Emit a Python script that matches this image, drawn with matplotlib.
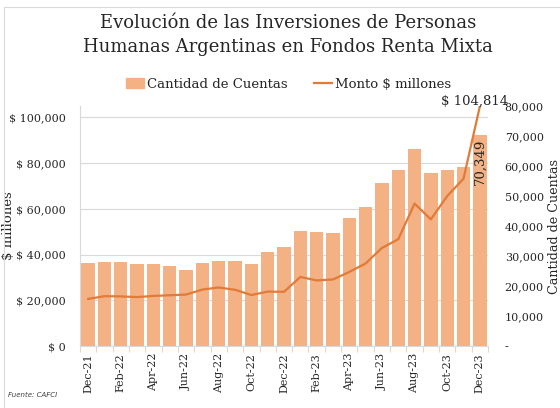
import matplotlib
matplotlib.use("Agg")
import matplotlib.pyplot as plt
from matplotlib.patches import Rectangle
from matplotlib.lines import Line2D
from matplotlib.ticker import FuncFormatter, FixedLocator

plt.rcParams["font.family"] = ["DejaVu Serif"]

months = ["Dec-21", "Jan-22", "Feb-22", "Mar-22", "Apr-22", "May-22", "Jun-22",
          "Jul-22", "Aug-22", "Sep-22", "Oct-22", "Nov-22", "Dec-22", "Jan-23",
          "Feb-23", "Mar-23", "Apr-23", "May-23", "Jun-23", "Jul-23", "Aug-23",
          "Sep-23", "Oct-23", "Nov-23", "Dec-23"]

cuentas = [27600, 28100, 28100, 27200, 27200, 26800, 25300, 27600, 28300, 28300,
           27200, 31200, 33100, 38300, 38000, 37600, 42800, 46300, 54200, 58600,
           65600, 57800, 58600, 59600, 70349]

monto = [20600, 21800, 21700, 21400, 21900, 22200, 22500, 24700, 25600, 24600,
         22300, 23800, 23700, 30200, 28700, 29100, 32400, 36100, 42900, 46700,
         62300, 55400, 65600, 73200, 104814]

monto_ticks = [0, 20000, 40000, 60000, 80000, 100000]
cuentas_ticks = [0, 10000, 20000, 30000, 40000, 50000, 60000, 70000, 80000]

MONTO_MAX = 105000
CUENTAS_MAX = 80000

BAR_COLOR = "#F4B183"
LINE_COLOR = "#E07B39"
GRID_COLOR = "#D9D9D9"
TEXT_COLOR = "#262626"

W, H = 560, 408
fig = plt.figure(figsize=(W / 100, H / 100), dpi=100)

# frame lines along the top and left edges
fig.lines.append(Line2D([4 / W, 4 / W, 1.0], [0.0, 1 - 7 / H, 1 - 7 / H],
                        transform=fig.transFigure, color="#D9D9D9", linewidth=0.8))

left, right, top, bottom = 80, 488, 106, 346
pw = right - left
ax = fig.add_axes([left / W, 1 - bottom / H, pw / W, (bottom - top) / H])
ax2 = ax.twinx()

x = list(range(len(months)))

# bars on the secondary axis, line on the primary axis drawn above
ax2.bar(x, cuentas, width=0.82, color=BAR_COLOR, zorder=2)
for t in monto_ticks[1:]:
    ax2.axhline(t * CUENTAS_MAX / MONTO_MAX, color=GRID_COLOR, linewidth=0.8, zorder=0)
ax2.set_ylim(0, CUENTAS_MAX)

ax.set_zorder(ax2.get_zorder() + 1)
ax.patch.set_visible(False)
ax.plot(x, monto, color=LINE_COLOR, linewidth=1.6, zorder=3)
ax.set_ylim(0, MONTO_MAX)
ax.set_xlim(-0.5, len(months) - 0.5)

# primary (left) axis: monto
ax.yaxis.set_major_locator(FixedLocator(monto_ticks))
ax.yaxis.set_major_formatter(FuncFormatter(lambda v, p: f"$ {v:,.0f}"))
ax.tick_params(axis="y", length=0, pad=10, labelsize=8, labelcolor=TEXT_COLOR)
ax.set_ylabel("$ millones", fontsize=9.5, color=TEXT_COLOR)
ax.yaxis.set_label_coords((15 - left) / pw, 0.5)

# secondary (right) axis: cuentas
ax2.yaxis.set_major_locator(FixedLocator(cuentas_ticks))
ax2.yaxis.set_major_formatter(FuncFormatter(lambda v, p: "-" if v == 0 else f"{v:,.0f}"))
ax2.tick_params(axis="y", length=0, pad=12, labelsize=8, labelcolor=TEXT_COLOR)
ax2.set_ylabel("Cantidad de Cuentas", fontsize=9.2, color=TEXT_COLOR, rotation=90)
ax2.yaxis.set_label_coords((548 - left) / pw, 0.5)

# x axis: every other month labelled, tick marks between categories
ax.set_xticks(x[::2])
ax.set_xticklabels(months[::2], rotation=90, fontsize=8, color=TEXT_COLOR)
ax.tick_params(axis="x", length=0, pad=5)
ax.set_xticks([i - 0.5 for i in range(len(months) + 1)], minor=True)
ax.tick_params(axis="x", which="minor", length=4, color=GRID_COLOR, width=0.8)
ax2.tick_params(axis="x", which="both", length=0)

for a in (ax, ax2):
    for s in ("top", "right"):
        a.spines[s].set_visible(False)
    a.spines["left"].set_color(GRID_COLOR)
    a.spines["bottom"].set_color(GRID_COLOR)
    a.spines["left"].set_linewidth(0.8)
    a.spines["bottom"].set_linewidth(0.8)
ax2.spines["left"].set_visible(False)
ax2.spines["bottom"].set_visible(False)

# data labels for the last month
ax.annotate(f"$ {monto[-1]:,}", xy=(x[-1], monto[-1]), xytext=(-4, 4),
            textcoords="offset points", ha="center", va="center",
            fontsize=9.5, color=TEXT_COLOR, zorder=4)
ax2.annotate(f"{cuentas[-1]:,}", xy=(x[-1], cuentas[-1]), xytext=(0, -3),
             textcoords="offset points", ha="center", va="top", rotation=90,
             fontsize=9.5, color=TEXT_COLOR)

# title
fig.text(0.515, 1 - 35 / H, "Evolución de las Inversiones de Personas\n"
         "Humanas Argentinas en Fondos Renta Mixta",
         ha="center", va="center", fontsize=13, color=TEXT_COLOR, linespacing=1.5)

# legend
handles = [Rectangle((0, 0), 1, 1, color=BAR_COLOR),
           Line2D([0], [0], color=LINE_COLOR, linewidth=1.6)]
fig.legend(handles, ["Cantidad de Cuentas", "Monto $ millones"],
           loc="center", bbox_to_anchor=(0.515, 1 - 84 / H), ncol=2, frameon=False,
           fontsize=9.5, handlelength=1.4, handletextpad=0.2, columnspacing=2.0,
           labelcolor=TEXT_COLOR)

fig.text(8 / W, 1 - 395 / H, "Fuente: CAFCI", fontsize=5, style="italic",
         family="DejaVu Sans", color="#404040", va="center")

fig.savefig("out.png", dpi=100)
